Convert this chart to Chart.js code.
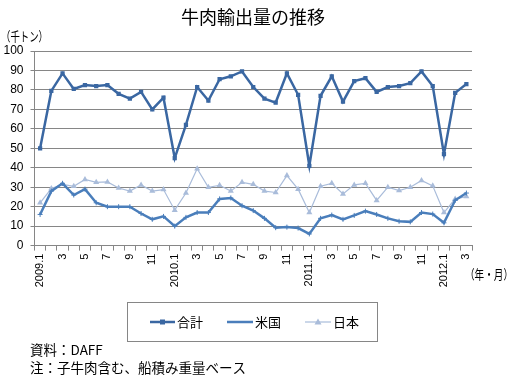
<!DOCTYPE html>
<html><head><meta charset="utf-8">
<script src="https://cdn.jsdelivr.net/npm/chart.js@4/dist/chart.umd.min.js"></script>
<style>html,body{margin:0;padding:0;background:#fff;}canvas{display:block}</style>
</head><body>
<canvas id="c" width="520" height="383"></canvas>
<script>
const months = ["2009.1","2","3","4","5","6","7","8","9","10","11","12",
  "2010.1","2","3","4","5","6","7","8","9","10","11","12",
  "2011.1","2","3","4","5","6","7","8","9","10","11","12",
  "2012.1","2","3"];
const total = [50,79.5,88.5,80.5,82.5,82,82.5,78,75.5,79,70,76,
  45,62,81.5,74.5,85.5,87,89.5,81.5,75.5,73.5,88.5,77.5,
  41,77,87,74,84.5,86,79,81.5,82,83.5,89.5,82,47,78.5,83];
const usa = [16,28,32,26,29,22,20,20,20,16.5,13.5,15,
  10,14.5,17,17,24,24.5,20.5,18,14,9.2,9.5,9,
  6,14,15.7,13.5,15.5,17.7,16,14,12.5,12.2,17,16.2,11.7,23.3,27];
const japan = [22,29.3,31.5,30.5,34,32.5,32.7,29.6,28,31.2,28,28.8,
  18.2,27,39.5,30,31,28,32.5,31.5,28,27.3,36,29,
  17,30.5,32,26.5,31.2,32,23.2,30,28.3,30,33.5,30.7,17,24,25.2];
const seriesNames = ["合計","米国","日本"];
const titleText = "牛肉輸出量の推移";
const yUnit = "（千トン）";
const xUnit = "（年・月）";
const notes = ["資料：DAFF","注：子牛肉含む、船積み重量ベース"];

const colors = ["#3A67A2","#4A7EBB","#A9BCDA"];
const JP = "'Noto Sans CJK JP', sans-serif";
const NUM = "'Liberation Sans', 'Noto Sans CJK JP', sans-serif";

const extras = {
  id: 'extras',
  afterDraw(chart) {
    const ctx = chart.ctx;
    ctx.save();
    ctx.fillStyle = '#000';
    ctx.textBaseline = 'middle';
    ctx.textAlign = 'center';
    ctx.font = "18px " + JP;
    ctx.fillText(titleText, 253, 17);
    ctx.textAlign = 'left';
    ctx.font = "13px " + JP;
    ctx.fillText(yUnit, 1, 36, 47);
    ctx.fillText(xUnit, 465, 274, 48);
    ctx.font = "13.5px " + JP;
    ctx.fillText(notes[0], 30, 350);
    ctx.fillText(notes[1], 30, 368);
    // legend
    ctx.strokeStyle = '#868686';
    ctx.lineWidth = 1;
    ctx.strokeRect(127.5, 302.5, 250, 39);
    const items = [
      {x0:150, x1:175, tx:177, w:2.5, style:'rect'},
      {x0:227, x1:253, tx:255, w:2.5, style:'cross'},
      {x0:305, x1:331, tx:333, w:1.2, style:'triangle'}
    ];
    const ly = 322;
    items.forEach((it, i) => {
      ctx.strokeStyle = colors[i];
      ctx.lineWidth = it.w;
      ctx.beginPath(); ctx.moveTo(it.x0, ly); ctx.lineTo(it.x1, ly); ctx.stroke();
      const cx = (it.x0 + it.x1) / 2;
      ctx.fillStyle = colors[i];
      if (it.style === 'rect') { ctx.fillRect(cx-2.5, ly-2.5, 5, 5); }
      else if (it.style === 'triangle') {
        ctx.beginPath(); ctx.moveTo(cx, ly-3.5); ctx.lineTo(cx+3.5, ly+2.5); ctx.lineTo(cx-3.5, ly+2.5); ctx.closePath(); ctx.fill();
      }
      ctx.fillStyle = '#000';
      ctx.font = "13px " + JP;
      ctx.fillText(seriesNames[i], it.tx, ly);
    });
    ctx.restore();
  }
};

new Chart(document.getElementById('c'), {
  type: 'line',
  data: {
    labels: months,
    datasets: [
      {label: seriesNames[0], data: total, borderColor: colors[0], backgroundColor: colors[0], borderWidth: 2.5, pointStyle: 'rect', pointRadius: 3, pointBorderWidth: 0, tension: 0},
      {label: seriesNames[1], data: usa, borderColor: colors[1], backgroundColor: colors[1], borderWidth: 2.5, pointStyle: 'cross', pointRadius: 2.5, pointBorderWidth: 1, tension: 0},
      {label: seriesNames[2], data: japan, borderColor: colors[2], backgroundColor: colors[2], borderWidth: 1.2, pointStyle: 'triangle', pointRadius: 3.5, pointBorderWidth: 0, tension: 0}
    ]
  },
  options: {
    responsive: false,
    animation: false,
    devicePixelRatio: 1,
    layout: {padding: {top: 51, right: 48, bottom: 82.4, left: 0}},
    plugins: {legend: {display: false}, title: {display: false}, tooltip: {enabled: false}},
    scales: {
      x: {
        offset: true,
        grid: {display: true, drawOnChartArea: false, offset: true, tickLength: 5, color: '#868686'},
        border: {display: true, color: '#868686'},
        ticks: {autoSkip: false, maxRotation: 90, minRotation: 90, padding: 3, color: '#000',
          font: {size: 11, family: NUM},
          callback: function(v, i) { const l = months[i]; const m = parseInt(l.split('.').pop()); return (m % 2 === 1) ? l : ''; }},
        afterFit: s => { s.height = 55; }
      },
      y: {
        min: 0, max: 100,
        grid: {color: '#868686', tickLength: 4},
        border: {display: true, color: '#868686'},
        ticks: {stepSize: 10, padding: 7, color: '#000', font: {size: 12, family: NUM}},
        afterFit: s => { s.width = 34.5; }
      }
    }
  },
  plugins: [extras]
});
</script>
</body></html>
